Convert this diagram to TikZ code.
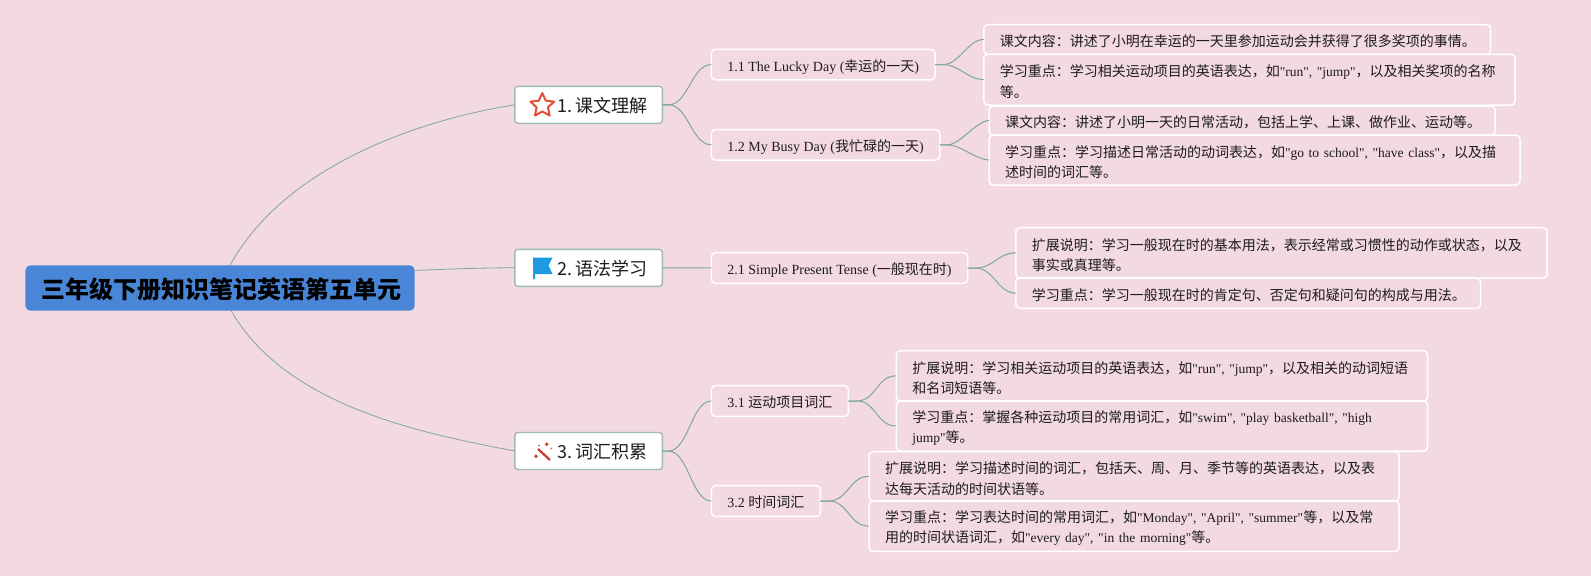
\documentclass[tikz,border=0pt]{standalone}
\usepackage{fontspec}
\setmainfont{Noto Sans CJK SC}
\newfontfamily\latinfont{Liberation Serif}
\newfontfamily\latinleaf[Scale=0.965]{Liberation Serif}
\newcommand{\en}[1]{{\latinfont #1}}
\newcommand{\enl}[1]{{\latinleaf #1}}
\usetikzlibrary{shapes.geometric}
\definecolor{paper}{HTML}{F3D9E1}
\definecolor{rootblue}{HTML}{4A86D8}
\definecolor{branch}{HTML}{7FA79B}
\definecolor{topicedge}{HTML}{9DBBB2}
\definecolor{inkdark}{HTML}{1C1C1C}
\definecolor{starred}{HTML}{E2503C}
\definecolor{flagblue}{HTML}{1E9BE0}
\definecolor{wandred}{HTML}{C8392C}

\begin{document}
\begin{tikzpicture}[
        x=1pt, y=-1pt,
        root box/.style={anchor=north west, fill=rootblue, rounded corners=5pt, inner sep=0pt, outer sep=0pt,
            minimum height=45.4pt, text=black, text height=21pt, text depth=1pt, font=\fontsize{24}{28}\selectfont\bfseries},
        topic box/.style={anchor=north west, draw=topicedge, line width=1.4pt, fill=white, rounded corners=3pt, inner sep=0pt, outer sep=0pt,
            minimum width=147.6pt, minimum height=37pt, text=inkdark, text height=16pt, text depth=1pt, font=\fontsize{18}{22}\selectfont},
        sub box/.style={anchor=north west, draw=white, line width=1.5pt, fill=paper, rounded corners=4pt, inner xsep=16pt, inner ysep=0pt, outer sep=0pt,
            minimum height=30.6pt, text=inkdark, text height=14pt, text depth=0.3pt, font=\fontsize{14}{20}\selectfont},
        leaf box/.style={anchor=north west, draw=white, line width=1.5pt, fill=paper, rounded corners=4pt, inner xsep=16pt, inner ysep=0pt, outer sep=0pt,
            text=inkdark, align=left, text height=16pt, font=\fontsize{14}{20.5}\selectfont},
        thin line/.style={draw=branch, line width=0.8pt},
        curve line/.style={draw=branch, line width=1pt}
    ]
    \fill[paper] (0,0) rectangle (1591,576);
    \useasboundingbox (0,0) rectangle (1591,576);

    \node[root box, minimum width=389.3pt] (root) at (25.4,265.3) {\hspace{2pt}三年级下册知识笔记英语第五单元};

    \node[topic box] (topicA) at (514.8,86.3) {\hspace{28.4pt}1.\kern3pt 课文理解};
    \node[topic box] (topicB) at (514.8,249.3) {\hspace{28.4pt}2.\kern3pt 语法学习};
    \node[topic box] (topicC) at (514.8,432.5) {\hspace{28.4pt}3.\kern3pt 词汇积累};

    \node[sub box, minimum width=222.5pt] (subAa) at (711.4,49.3) {\en{1.1 The Lucky Day (}幸运的一天\en{)}};
    \node[sub box, minimum width=228.3pt] (subAb) at (711.4,129.5) {\en{1.2 My Busy Day (}我忙碌的一天\en{)}};
    \node[sub box, minimum width=255.6pt] (subBa) at (711.4,252.7) {\en{2.1 Simple Present Tense (}一般现在时\en{)}};
    \node[sub box, minimum width=135.9pt] (subCa) at (711.4,385.7) {\en{3.1 }运动项目词汇};
    \node[sub box, minimum width=107.7pt] (subCb) at (711.4,485.7) {\en{3.2 }时间词汇};

    \node[leaf box, text width=474.9pt, minimum height=29.6pt] (leafAa) at (983.8,24.7) {课文内容：讲述了小明在幸运的一天里参加运动会并获得了很多奖项的事情。};
    \node[leaf box, text width=499.4pt, minimum height=50.7pt] (leafAb) at (983.8,54.3) {学习重点：学习相关运动项目的英语表达，如\enl{"run", "jump"}，以及相关奖项的名称\\等。};
    \node[leaf box, text width=474.2pt, minimum height=29pt] (leafBa) at (989,106) {课文内容：讲述了小明一天的日常活动，包括上学、上课、做作业、运动等。};
    \node[leaf box, text width=499.1pt, minimum height=50pt] (leafBb) at (989,135) {学习重点：学习描述日常活动的动词表达，如\enl{"go to school", "have class"}，以及描\\述时间的词汇等。};
    \node[leaf box, text width=499.4pt, minimum height=50.3pt] (leafCa) at (1015.8,227.7) {扩展说明：学习一般现在时的基本用法，表示经常或习惯性的动作或状态，以及\\事实或真理等。};
    \node[leaf box, text width=432.7pt, minimum height=30.3pt] (leafCb) at (1015.8,278) {学习重点：学习一般现在时的肯定句、否定句和疑问句的构成与用法。};
    \node[leaf box, text width=499.2pt, minimum height=50.3pt] (leafDa) at (896.3,350.7) {扩展说明：学习相关运动项目的英语表达，如\enl{"run", "jump"}，以及相关的动词短语\\和名词短语等。};
    \node[leaf box, text width=499.2pt, minimum height=50pt] (leafDb) at (896.3,401) {学习重点：掌握各种运动项目的常用词汇，如\enl{"swim", "play basketball", "high}\\\enl{jump"}等。};
    \node[leaf box, text width=498.1pt, minimum height=49.3pt] (leafEa) at (869,451.7) {扩展说明：学习描述时间的词汇，包括天、周、月、季节等的英语表达，以及表\\达每天活动的时间状语等。};
    \node[leaf box, text width=498.1pt, minimum height=50.3pt] (leafEb) at (869,501) {学习重点：学习表达时间的常用词汇，如\enl{"Monday", "April", "summer"}等，以及常\\用的时间状语词汇，如\enl{"every day", "in the morning"}等。};

    % root to topics
    \draw[thin line] ([xshift=10pt]root.north) .. controls +(55,-100) and +(-95,15) .. (topicA.west);
    \draw[thin line] (root.north east) ++(0,5) .. controls +(35,-1) and +(-40,0) .. (topicB.west);
    \draw[thin line] ([xshift=11pt]root.south) .. controls +(55,95) and +(-95,-18) .. (topicC.west);

    % topics to subtopics
    \draw[curve line] (topicA.east) -- ++(6,0) .. controls +(20,0) and +(-20,0) .. (subAa.west);
    \draw[curve line] (topicA.east) -- ++(6,0) .. controls +(20,0) and +(-20,0) .. (subAb.west);
    \draw[curve line] (topicB.east) -- (subBa.west);
    \draw[curve line] (topicC.east) -- ++(6,0) .. controls +(20,0) and +(-20,0) .. (subCa.west);
    \draw[curve line] (topicC.east) -- ++(6,0) .. controls +(20,0) and +(-20,0) .. (subCb.west);

    % subtopics to leaves
    \draw[curve line] (subAa.east) -- ++(8,0) .. controls +(16,0) and +(-16,0) .. (leafAa.west);
    \draw[curve line] (subAa.east) -- ++(8,0) .. controls +(16,0) and +(-16,0) .. (leafAb.west);
    \draw[curve line] (subAb.east) -- ++(8,0) .. controls +(12,0) and +(-12,0) .. (leafBa.west);
    \draw[curve line] (subAb.east) -- ++(8,0) .. controls +(12,0) and +(-12,0) .. (leafBb.west);
    \draw[curve line] (subBa.east) -- ++(8,0) .. controls +(18,0) and +(-18,0) .. (leafCa.west);
    \draw[curve line] (subBa.east) -- ++(8,0) .. controls +(18,0) and +(-18,0) .. (leafCb.west);
    \draw[curve line] (subCa.east) -- ++(8,0) .. controls +(20,0) and +(-20,0) .. (leafDa.west);
    \draw[curve line] (subCa.east) -- ++(8,0) .. controls +(20,0) and +(-20,0) .. (leafDb.west);
    \draw[curve line] (subCb.east) -- ++(8,0) .. controls +(20,0) and +(-20,0) .. (leafEa.west);
    \draw[curve line] (subCb.east) -- ++(8,0) .. controls +(20,0) and +(-20,0) .. (leafEb.west);

    % star icon
    \node[star, star points=5, star point ratio=2.1, draw=starred, line width=2pt, line join=round,
        inner sep=0pt, minimum size=25pt, fill=white] (iconStar) at (542.3,105.5) {};

    % flag icon
    \fill[flagblue] (533,257.5) -- (552.5,257.5) -- (548.5,265.5) -- (552.5,274) -- (535,274) -- (535,279) -- (533,279) -- cycle;

    % wand icon
    \draw[wandred, line width=2.2pt] (538,449) -- (550,460);
    \fill[wandred] (546.7,442) -- (547.5,443.5) -- (549,444.2) -- (547.5,445) -- (546.7,446.5) -- (545.9,445) -- (544.4,444.2) -- (545.9,443.5) -- cycle;
    \fill[wandred] (536,454) -- (536.8,455.5) -- (538.3,456.2) -- (536.8,457) -- (536,458.5) -- (535.2,457) -- (533.7,456.2) -- (535.2,455.5) -- cycle;
    \fill[wandred!60!white] (551,448.5) circle (1.2);
    \fill[wandred] (539,445.5) circle (0.9);

\end{tikzpicture}
\end{document}
